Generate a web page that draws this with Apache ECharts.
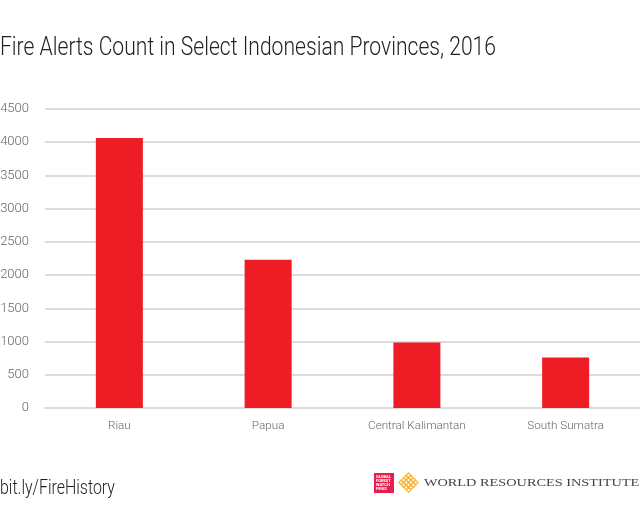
<!DOCTYPE html>
<html>
<head>
<meta charset="utf-8">
<style>
  html, body { margin: 0; padding: 0; background: #fff; }
  #chart1 { width: 640px; height: 525px; }
</style>
<script src="https://cdn.jsdelivr.net/npm/echarts@6/dist/echarts.min.js"></script>
</head>
<body>
<div id="chart1"></div>
<script>
var categories = ['Riau', 'Papua', 'Central Kalimantan', 'South Sumatra'];
var alertCounts = [4065, 2230, 985, 760];
var tickMax = 4500;
var tickStep = 500;

var chartDom = document.getElementById('chart1');
var myChart = echarts.init(chartDom);
var option;

var labelFont = 'Roboto, sans-serif';

// gold lattice of the WRI logo
var latticeCells = [];
for (var i = 0; i < 4; i++) {
  for (var j = 0; j < 4; j++) {
    var cx = 408.5 + (i - j) * 2.4;
    var cy = 482.5 + (i + j - 3) * 2.4;
    latticeCells.push({
      type: 'polygon',
      shape: { points: [[cx, cy - 2.4], [cx + 2.4, cy], [cx, cy + 2.4], [cx - 2.4, cy]] },
      style: { fill: 'none', stroke: '#f8b334', lineWidth: 1.2 }
    });
  }
}

option = {
  animation: false,
  backgroundColor: '#ffffff',
  grid: { left: 45, right: 0, top: 109, bottom: 117, outerBoundsMode: 'none' },
  xAxis: {
    type: 'category',
    data: categories,
    axisTick: { show: false },
    axisLine: { lineStyle: { color: '#dcdcdc', width: 2 } },
    axisLabel: { interval: 0, fontFamily: labelFont, fontWeight: 300, fontSize: 11.7, color: '#666666', margin: 12 }
  },
  yAxis: {
    type: 'value',
    min: 0,
    max: tickMax,
    interval: tickStep,
    axisLine: { show: false },
    axisTick: { show: false },
    axisLabel: {
      fontFamily: labelFont, fontWeight: 300, fontSize: 13, color: '#666666', margin: 16,
      padding: [4, 0, 0, 0],
      formatter: function (v) { return String(v); }
    },
    splitLine: { lineStyle: { color: '#dcdcdc', width: 2 } }
  },
  series: [
    {
      type: 'bar',
      data: alertCounts,
      barWidth: 47,
      itemStyle: { color: '#ee1c25' }
    }
  ],
  graphic: [
    { type: 'text', x: 0, y: 36, scaleX: 0.844, style: { text: 'Fire Alerts Count in Select Indonesian Provinces, 2016', fontFamily: labelFont, fontWeight: 300, fontSize: 25, fill: '#222222' } },
    { type: 'text', x: 0, y: 478, scaleX: 0.76, style: { text: 'bit.ly/FireHistory', fontFamily: labelFont, fontWeight: 300, fontSize: 21, fill: '#222222' } },
    { type: 'rect', shape: { x: 374, y: 473, width: 20, height: 20 }, style: { fill: '#e3204f' } },
    { type: 'text', x: 376, y: 475, style: { text: 'GLOBAL\nFOREST\nWATCH\nFIRES', fontFamily: labelFont, fontSize: 4, lineHeight: 4, fontWeight: 'bold', fill: '#ffffff' } },
    { type: 'group', children: latticeCells },
    { type: 'text', x: 424, y: 478, scaleX: 1.3, style: { text: 'WORLD RESOURCES INSTITUTE', fontFamily: '"Liberation Serif", serif', fontSize: 11, fill: '#444444' } }
  ]
};

option && myChart.setOption(option);
window.onresize = function() {
  myChart.resize();
};
</script>
</body>
</html>
